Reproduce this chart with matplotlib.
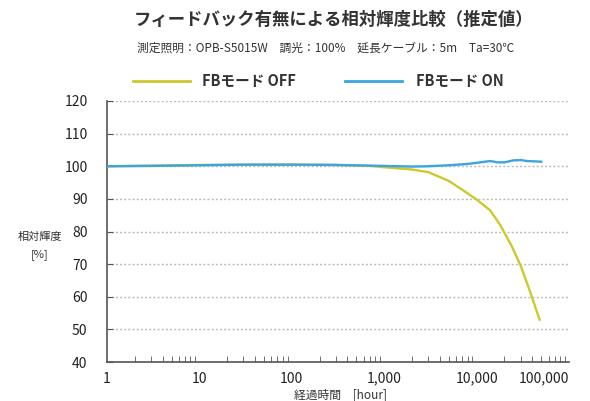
import matplotlib.pyplot as plt
from matplotlib.ticker import FixedLocator, LogLocator, NullFormatter
from matplotlib.lines import Line2D

plt.rcParams['font.family'] = ['Noto Sans CJK JP', 'DejaVu Sans']

# データ（グラフから読み取った推定値）
hours_off = [1, 10, 100, 300, 700, 1000, 2000, 3000, 5000, 7000, 10000, 14000, 18000, 24000, 30000, 38000, 48000]
lum_off = [100, 100.4, 100.5, 100.4, 100.1, 99.7, 99.0, 98.2, 95.5, 92.8, 89.8, 86.5, 82.0, 75.5, 69.5, 61.5, 53.0]
hours_on = [1, 3, 10, 30, 100, 300, 1000, 2000, 3000, 5000, 8000, 11000, 14000, 17000, 20000, 25000, 30000, 35000, 42000, 50000]
lum_on = [100, 100.1, 100.3, 100.5, 100.5, 100.4, 100.1, 99.9, 100.0, 100.3, 100.7, 101.2, 101.6, 101.2, 101.2, 101.8, 101.9, 101.6, 101.5, 101.4]
xtick_vals = [1, 10, 100, 1000, 10000, 100000]
xtick_labels = ['1', '10', '100', '1,000', '10,000', '100,000']

col_off = '#cdc92c'
col_on = '#3aa6dc'

fig = plt.figure(figsize=(5.9, 4.01), dpi=100)
ax = fig.add_axes([107/590, 1-362/401, (569-107)/590, (362-101)/401])

ax.plot(hours_off, lum_off, color=col_off, lw=1.7, zorder=3)
ax.plot(hours_on, lum_on, color=col_on, lw=1.7, zorder=4)

ax.set_xscale('log')
ax.set_xlim(1, 100000)
ax.set_ylim(40, 120)
ax.xaxis.set_major_locator(FixedLocator(xtick_vals))
ax.set_xticklabels(xtick_labels)
ax.xaxis.set_minor_locator(LogLocator(base=10, subs=range(2, 10)))
ax.xaxis.set_minor_formatter(NullFormatter())
ax.set_yticks(range(40, 121, 10))
# 右端のラベルがはみ出さないように
ax.get_xticklabels()[-1].set_ha('right')

ax.grid(axis='y', color='#bbbbbb', ls=(0, (1.5, 1.5)), lw=1)
for s in ['top', 'right']:
    ax.spines[s].set_visible(False)
for s in ['left', 'bottom']:
    ax.spines[s].set_color('#555555')
    ax.spines[s].set_linewidth(1.2)
ax.tick_params(axis='x', which='major', direction='in', length=0, pad=7, labelsize=10, colors='#222222')
ax.tick_params(axis='x', which='minor', direction='in', length=4, color='#555555')
ax.tick_params(axis='y', direction='in', length=4, pad=14, labelsize=10, colors='#222222')
ax.tick_params(axis='y', color='#555555')

fig.text(40/590, 1-246/401, '相対輝度\n[%]', ha='center', va='center', fontsize=8, linespacing=2.0, color='#333333')
fig.text(340/590, 1-394.5/401, '経過時間　[hour]', ha='center', va='center', fontsize=8.5, color='#333333')

fig.text(334/590, 1-20/401, 'フィードバック有無による相対輝度比較（推定値）', ha='center', va='center',
         fontsize=12.5, fontweight='bold', color='#333333')
fig.text(326/590, 1-48/401, '測定照明：OPB-S5015W　調光：100%　延長ケーブル：5m　Ta=30℃', ha='center', va='center',
         fontsize=8.5, color='#333333')

# 凡例
fig.add_artist(Line2D([133/590, 190/590], [1-81/401, 1-81/401], color=col_off, lw=2))
fig.text(202/590, 1-81/401, 'FBモード OFF', ha='left', va='center', fontsize=10.5, fontweight='bold', color='#333333')
fig.add_artist(Line2D([345/590, 402/590], [1-81/401, 1-81/401], color=col_on, lw=2))
fig.text(416/590, 1-81/401, 'FBモード ON', ha='left', va='center', fontsize=10.5, fontweight='bold', color='#333333')

fig.savefig('out.png', dpi=100)
